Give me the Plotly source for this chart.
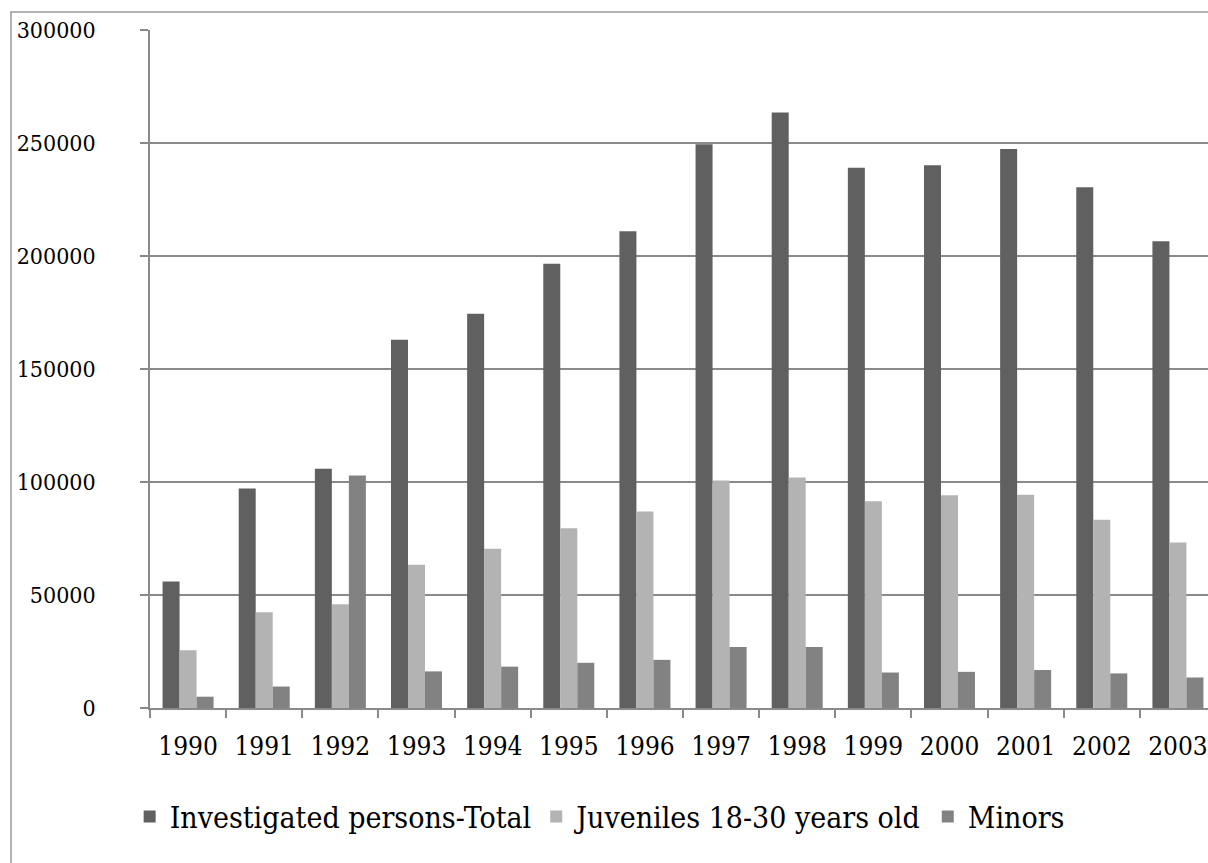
import plotly.graph_objects as go

years = ["1990", "1991", "1992", "1993", "1994", "1995", "1996",
         "1997", "1998", "1999", "2000", "2001", "2002", "2003"]

investigated_total = [56000, 97100, 105900, 162900, 174500, 196600, 210900,
                      249500, 263500, 239100, 240100, 247300, 230400, 206500]
juveniles_18_30 = [25600, 42400, 45900, 63400, 70500, 79500, 87000,
                   100700, 102000, 91500, 94100, 94400, 83300, 73200]
minors = [5000, 9500, 102900, 16200, 18300, 20000, 21300,
          27000, 27000, 15700, 16000, 16800, 15300, 13500]

series = [
    ("Investigated persons-Total", investigated_total, "#606060"),
    ("Juveniles 18-30 years old", juveniles_18_30, "#b3b3b3"),
    ("Minors", minors, "#828282"),
]

FONT = "'DejaVu Serif Condensed', 'DejaVu Serif', serif"
GRID = "#8a8a8a"

fig = go.Figure()
for name, values, color in series:
    fig.add_trace(go.Bar(
        x=years, y=values, name=name,
        marker=dict(color=color, line=dict(width=0)),
    ))

fig.update_layout(
    width=1208, height=863,
    margin=dict(l=150, r=0, t=30, b=155),
    paper_bgcolor="white", plot_bgcolor="white",
    barmode="group", bargap=0.33, bargroupgap=0,
    font=dict(family=FONT, size=26, color="black"),
    showlegend=True,
    legend=dict(
        orientation="h", x=0.425, xanchor="center", y=-0.16, yanchor="middle",
        font=dict(family=FONT, size=30, color="black"),
        itemwidth=30, traceorder="normal",
    ),
    shapes=[dict(
        type="rect", xref="paper", yref="paper",
        x0=-139 / 1058, x1=1.2, y0=-0.5, y1=1 + 18 / 678,
        line=dict(color="#9a9a9a", width=1.5), fillcolor="rgba(0,0,0,0)",
        layer="below",
    )],
)

fig.update_xaxes(
    type="category", range=[-0.5, 13.395],
    showline=True, linecolor=GRID, linewidth=1.5,
    ticks="outside", tickson="boundaries", ticklen=8, tickcolor=GRID, tickwidth=1.5,
    ticklabelstandoff=14, tickangle=0,
    showgrid=False, zeroline=False,
    tickfont=dict(family=FONT, size=26, color="black"),
)
fig.update_yaxes(
    range=[0, 300000], dtick=50000, tickformat="d",
    showline=True, linecolor=GRID, linewidth=1.5,
    ticks="outside", ticklen=8, tickcolor=GRID, tickwidth=1.5,
    ticklabelstandoff=40,
    showgrid=True, gridcolor=GRID, gridwidth=1.5, zeroline=False,
    tickfont=dict(family=FONT, size=23, color="black"),
)

fig.write_html("out.html")
